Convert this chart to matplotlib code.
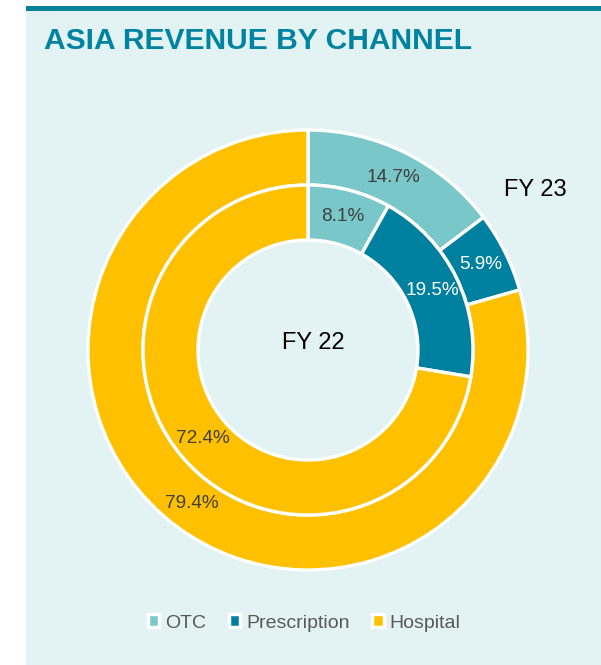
import matplotlib
matplotlib.use("Agg")
import matplotlib.pyplot as plt
from matplotlib.patches import Rectangle, Patch
import numpy as np

plt.rcParams['font.family'] = ['Liberation Sans', 'DejaVu Sans']

categories = ["OTC", "Prescription", "Hospital"]
fy23 = [14.7, 5.9, 79.4]
fy22 = [8.1, 19.5, 72.4]
colors = ["#79c7c9", "#00809f", "#ffc000"]
label_colors = ["#404040", "white", "#404040"]

W, H = 601, 665
fig = plt.figure(figsize=(W / 100, H / 100), dpi=100)
fig.patch.set_facecolor("white")
ax = fig.add_axes([0, 0, 1, 1])

cx, cy = 308, H - 350
R_out, R_mid, R_in = 220, 165, 110
wp = dict(edgecolor="white", linewidth=2.4)

w_out, _ = ax.pie(fy23, radius=R_out, center=(cx, cy), startangle=90, counterclock=False,
                  colors=colors, wedgeprops=dict(width=R_out - R_mid, **wp), frame=True)
w_in, _ = ax.pie(fy22, radius=R_mid, center=(cx, cy), startangle=90, counterclock=False,
                 colors=colors, wedgeprops=dict(width=R_mid - R_in, **wp), frame=True)
ax.set_xlim(0, W)
ax.set_ylim(0, H)
ax.set_aspect("auto")
ax.axis("off")

# panel background and top rule
ax.add_patch(Rectangle((26, 0), W - 26, H - 11, facecolor="#e3f2f3", edgecolor="none", zorder=-2))
ax.add_patch(Rectangle((26, H - 11), W - 26, 5, facecolor="#00819b", edgecolor="none", zorder=-1))

ax.text(44, H - 41, "ASIA REVENUE BY CHANNEL", fontsize=21.6, fontweight="bold",
        color="#0083a1", va="center", ha="left")


def label_ring(values, r):
    start = 90.0
    for v, c in zip(values, label_colors):
        mid = start - v * 3.6 / 2
        start -= v * 3.6
        a = np.deg2rad(mid)
        ax.text(cx + r * np.cos(a), cy + r * np.sin(a), f"{v:.1f}%", ha="center", va="center",
                fontsize=13.7, color=c)

label_ring(fy23, (R_out + R_mid) / 2)
label_ring(fy22, (R_mid + R_in) / 2)

ax.text(535, H - 190, "FY 23", fontsize=17, color="black", ha="center", va="center")
ax.text(313, H - 343, "FY 22", fontsize=17, color="black", ha="center", va="center")

handles = [Patch(facecolor=c, edgecolor="white", linewidth=2.5) for c in colors]
leg = ax.legend(handles, categories, loc="center", bbox_to_anchor=(304 / W, 42 / H),
                ncol=3, frameon=False, fontsize=14, handlelength=0.6, handleheight=0.6,
                handletextpad=0.3, columnspacing=1.15)
for t in leg.get_texts():
    t.set_color("#595959")

fig.savefig("out.png", dpi=100, facecolor=fig.get_facecolor())
